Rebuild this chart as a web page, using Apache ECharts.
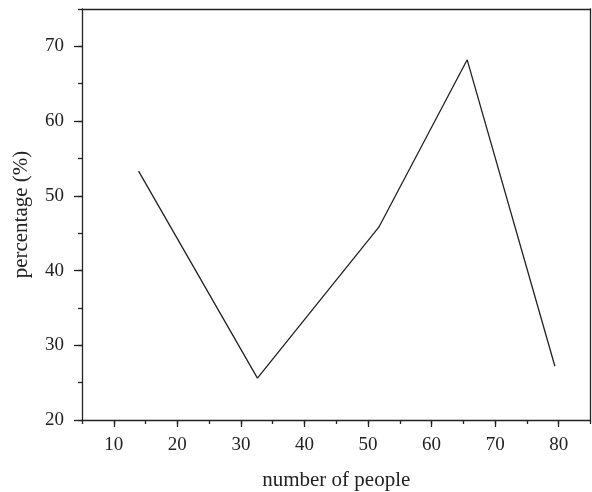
<!DOCTYPE html>
<html>
<head>
<meta charset="utf-8">
<script src="https://cdn.jsdelivr.net/npm/echarts@6/dist/echarts.min.js"></script>
<style>
  html, body { margin: 0; padding: 0; background: #fff; }
  #chart { width: 592px; height: 492px; }
</style>
</head>
<body>
<div id="chart"></div>
<script>
// data
const peopleX = [13.9, 32.6, 51.7, 65.6, 79.4];
const percentY = [53.3, 25.6, 45.8, 68.2, 27.2];
const xTicks = [10, 20, 30, 40, 50, 60, 70, 80];
const yTicks = [20, 30, 40, 50, 60, 70];

const ink = "#222";
const font = "Liberation Serif";

const points = peopleX.map((x, i) => [x, percentY[i]]);

const lineStyle = { color: ink, width: 1.3 };

// main axis: line + long ticks + labels
function mainAxis(extra) {
  return Object.assign({
    type: "value",
    axisLine: { show: true, onZero: false, lineStyle },
    splitLine: { show: false },
  }, extra);
}
// overlay axis: only short ticks every 5
function minorAxis(extra) {
  return Object.assign({
    type: "value", interval: 5,
    axisLine: { show: false },
    axisLabel: { show: false },
    splitLine: { show: false },
    axisTick: { show: true, inside: false, length: 4, lineStyle },
  }, extra);
}
// plain border axis
function borderAxis(extra) {
  return Object.assign({
    type: "value",
    axisLine: { show: true, onZero: false, lineStyle },
    axisTick: { show: false }, axisLabel: { show: false },
    splitLine: { show: false },
  }, extra);
}

const chart = echarts.init(document.getElementById("chart"), null, { renderer: "canvas" });
chart.setOption({
  animation: false,
  grid: { left: 82, right: 1.5, top: 9, bottom: 72, containLabel: false, outerBoundsMode: "none" },
  xAxis: [
    mainAxis({
      min: 5, max: 85, position: "bottom",
      name: "number of people", nameLocation: "middle", nameGap: 50,
      nameTextStyle: { fontFamily: font, fontSize: 21, color: ink },
      axisTick: { show: true, inside: false, length: 7, lineStyle, customValues: xTicks },
      axisLabel: { fontFamily: font, fontSize: 19, color: ink, margin: 16, customValues: xTicks },
    }),
    borderAxis({ min: 5, max: 85, position: "top" }),
    minorAxis({ min: 5, max: 85, position: "bottom" }),
  ],
  yAxis: [
    mainAxis({
      min: 20, max: 75, position: "left",
      name: "percentage (%)", nameLocation: "middle", nameGap: 50,
      nameTextStyle: { fontFamily: font, fontSize: 21, color: ink },
      axisTick: { show: true, inside: false, length: 8, lineStyle, customValues: yTicks },
      axisLabel: { fontFamily: font, fontSize: 19, color: ink, margin: 18, customValues: yTicks },
    }),
    borderAxis({ min: 20, max: 75, position: "right" }),
    minorAxis({ min: 20, max: 75, position: "left" }),
  ],
  series: [{
    type: "line",
    data: points,
    symbol: "none",
    lineStyle: { color: ink, width: 1.3 },
  }],
});
</script>
</body>
</html>
